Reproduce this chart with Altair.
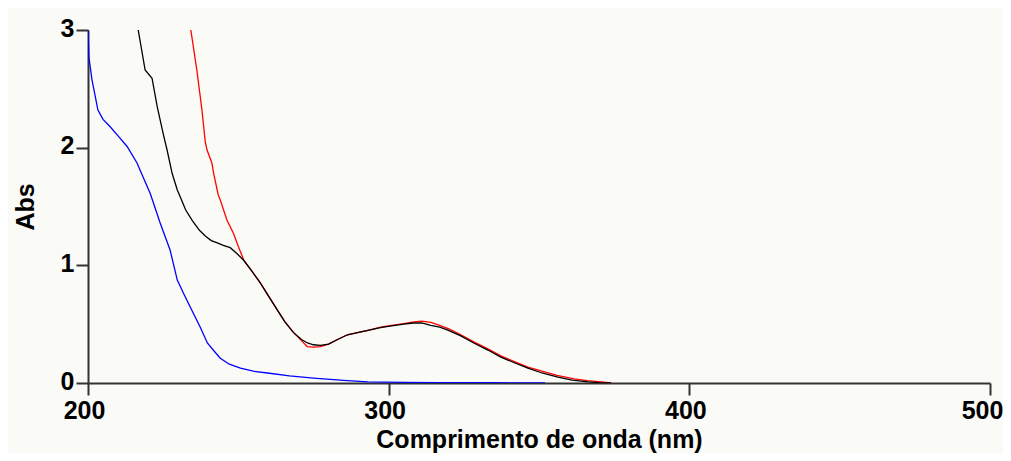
import altair as alt
import pandas as pd

blue_nm = [200, 200.3, 201.3, 203.3, 205, 207.3, 210, 213, 216.3, 217.3, 220.7, 224, 227.3, 229.7, 232, 234,
           237.3, 239.7, 242, 244, 247, 250.7, 255, 259.7, 267, 275, 285, 293, 305, 317, 335, 352]
blue_abs = [3.0, 2.77, 2.58, 2.32, 2.24, 2.18, 2.10, 2.01, 1.87, 1.81, 1.61, 1.36, 1.13, 0.875, 0.75, 0.646,
            0.476, 0.34, 0.27, 0.21, 0.16, 0.127, 0.10, 0.085, 0.06, 0.042, 0.022, 0.01, 0.006, 0.004, 0.002, 0.0]

black_nm = [216.7, 219, 221.3, 223, 225, 226.3, 228, 229.7, 230.7, 232.5, 234.7, 237, 239, 241, 243, 245,
            247.3, 249.5, 251.7, 254.5, 257.3, 260, 263, 265.5, 268.3, 271, 273, 275, 277.3, 280, 283, 286.3,
            290, 293.5, 297.3, 301, 305, 308.3, 311, 314, 317, 319.7, 324, 328.3, 333, 337.3, 342, 346.3,
            351, 356.3, 361, 366.3, 370, 374]
black_abs = [3.0, 2.66, 2.59, 2.35, 2.12, 1.98, 1.78, 1.64, 1.58, 1.47, 1.38, 1.30, 1.25, 1.21, 1.19, 1.17,
             1.15, 1.10, 1.045, 0.95, 0.85, 0.74, 0.62, 0.52, 0.43, 0.37, 0.34, 0.325, 0.32, 0.33, 0.37, 0.41,
             0.43, 0.45, 0.47, 0.485, 0.50, 0.51, 0.51, 0.49, 0.475, 0.45, 0.40, 0.34, 0.28, 0.22, 0.17, 0.127,
             0.085, 0.05, 0.025, 0.01, 0.004, 0.0]

red_nm = [234.2, 236.2, 237.9, 239, 239.6, 241.2, 241.8, 243.3, 244, 246.2, 248.4, 250, 251.8, 254.5, 257.3,
          260, 263, 265.5, 268.3, 271, 272.9, 275, 277.3, 280, 283, 286.3, 290, 293.5, 297.3, 301, 305, 308.3,
          311, 314, 317, 320, 324, 328.3, 333, 337.3, 342, 346.3, 351, 356, 361.7, 366, 370.7, 374]
red_abs = [3.0, 2.66, 2.32, 2.05, 1.98, 1.87, 1.78, 1.60, 1.555, 1.385, 1.27, 1.16, 1.045, 0.95, 0.85,
           0.74, 0.62, 0.52, 0.43, 0.36, 0.31, 0.305, 0.31, 0.33, 0.37, 0.41, 0.43, 0.45, 0.475, 0.49, 0.505, 0.52,
           0.525, 0.515, 0.49, 0.46, 0.41, 0.35, 0.29, 0.23, 0.18, 0.135, 0.10, 0.065, 0.035, 0.02, 0.01, 0.0]

x_ticks = [200, 300, 400, 500]
y_ticks = [0, 1, 2, 3]

series = [("blue", blue_nm, blue_abs, "#0000FF"),
          ("red", red_nm, red_abs, "#FF0000"),
          ("black", black_nm, black_abs, "#000000")]

rows = []
for name, xs, ys, col in series:
    for i, (a, b) in enumerate(zip(xs, ys)):
        rows.append({"s": name, "nm": a, "abs": b, "i": i})
df = pd.DataFrame(rows)

x = alt.X("nm:Q", scale=alt.Scale(domain=[200, 500], nice=False, zero=False),
          axis=alt.Axis(values=x_ticks, title="Comprimento de onda (nm)", format="d",
                        titlePadding=4, labelPadding=3,
                        labelOffset={"condition": {"test": "datum.value == 500", "value": -8},
                                     "value": -4}))
y = alt.Y("abs:Q", scale=alt.Scale(domain=[0, 3], nice=False),
          axis=alt.Axis(values=y_ticks, title="Abs", format="d", titlePadding=22,
                        labelPadding=2, labelOffset=-2))

layers = []
for name, xs, ys, col in series:
    layers.append(
        alt.Chart(df[df.s == name]).mark_line(color=col, strokeWidth=1.3, clip=True)
        .encode(x=x, y=y, order="i:Q")
    )

chart = alt.layer(*layers).properties(
    width=902, height=353,
    autosize=alt.AutoSizeParams(type="none"),
    padding={"left": 80, "top": 22, "right": 13, "bottom": 70},
    background="#FAFAF7",
).configure_view(stroke=None).configure_axis(
    grid=False,
    domainColor="#333333", domainWidth=2,
    tickColor="#333333", tickWidth=2, tickSize=12,
    labelFlush=False, labelOverlap=False,
    labelFont="Liberation Sans", labelFontSize=25, labelFontWeight="bold", labelColor="#000000",
    titleFont="Liberation Sans", titleFontSize=25, titleFontWeight="bold", titleColor="#000000",
)

chart.save("out.html", embed_options={"renderer": "svg", "actions": False})
